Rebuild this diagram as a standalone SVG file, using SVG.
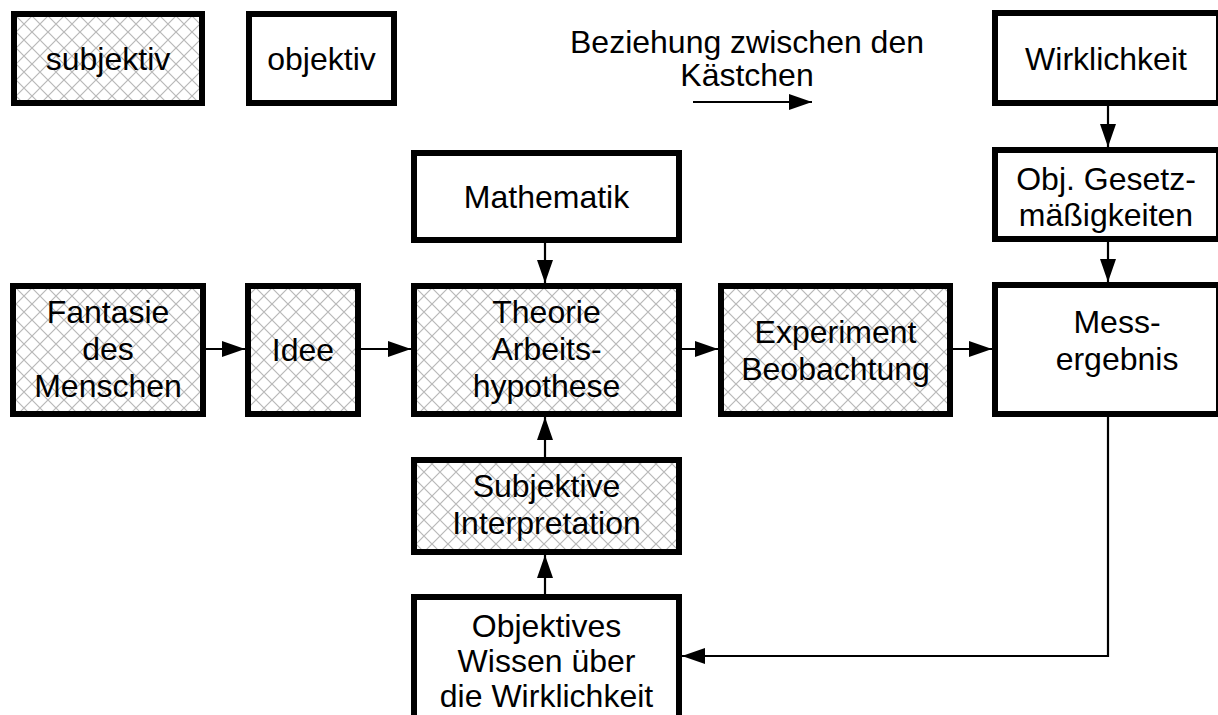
<svg xmlns="http://www.w3.org/2000/svg" width="1218" height="715" viewBox="0 0 1218 715">
  <defs>
    <!-- light diagonal cross-hatch used for the subjective boxes -->
    <pattern id="hatch" patternUnits="userSpaceOnUse" width="16" height="16">
      <rect width="16" height="16" fill="#ffffff"/>
      <path d="M0,0 L16,16 M16,0 L0,16" stroke="#b8b8b8" stroke-width="1.2" fill="none"/>
    </pattern>
    <marker id="arrow" markerUnits="userSpaceOnUse" markerWidth="24" markerHeight="18" refX="23" refY="9" orient="auto">
      <path d="M0,1 L23,9 L0,17 Z" fill="#000"/>
    </marker>
    <style>
      .box { stroke: #000; stroke-width: 6; }
      .subj { fill: url(#hatch); }
      .obj { fill: #ffffff; }
      .lbl { font-family: "Liberation Sans", Arial, sans-serif; font-size: 32px; fill: #000; text-anchor: middle; }
      .con { stroke: #000; stroke-width: 2.2; fill: none; }
      .con-arrow { marker-end: url(#arrow); }
    </style>
  </defs>
  <rect width="1218" height="715" fill="#ffffff"/>

  <!-- legend -->
  <g id="legend-subjektiv">
    <rect class="box subj" x="14" y="14" width="188" height="89"/>
    <text class="lbl" x="108" y="70">subjektiv</text>
  </g>
  <g id="legend-objektiv">
    <rect class="box obj" x="249" y="14" width="145" height="89"/>
    <text class="lbl" x="321.5" y="70">objektiv</text>
  </g>
  <g id="legend-relation">
    <text class="lbl" x="747" y="53">Beziehung zwischen den</text>
    <text class="lbl" x="747" y="86">Kästchen</text>
  </g>

  <!-- nodes -->
  <g id="wirklichkeit">
    <rect class="box obj" x="995" y="13" width="224" height="90"/>
    <text class="lbl" x="1106" y="70">Wirklichkeit</text>
  </g>
  <g id="gesetzmaessigkeiten">
    <rect class="box obj" x="995" y="150" width="224" height="89"/>
    <text class="lbl" x="1106" y="190">Obj. Gesetz-</text>
    <text class="lbl" x="1106" y="226">mäßigkeiten</text>
  </g>
  <g id="mathematik">
    <rect class="box obj" x="414" y="153" width="265" height="87"/>
    <text class="lbl" x="546.5" y="208">Mathematik</text>
  </g>
  <g id="fantasie">
    <rect class="box subj" x="13" y="286" width="190" height="128"/>
    <text class="lbl" x="108" y="323">Fantasie</text>
    <text class="lbl" x="108" y="360">des</text>
    <text class="lbl" x="108" y="397">Menschen</text>
  </g>
  <g id="idee">
    <rect class="box subj" x="248" y="286" width="110" height="128"/>
    <text class="lbl" x="303" y="361">Idee</text>
  </g>
  <g id="theorie">
    <rect class="box subj" x="414" y="286" width="265" height="128"/>
    <text class="lbl" x="546.5" y="323">Theorie</text>
    <text class="lbl" x="546.5" y="360">Arbeits-</text>
    <text class="lbl" x="546.5" y="397">hypothese</text>
  </g>
  <g id="experiment">
    <rect class="box subj" x="721" y="286" width="229" height="128"/>
    <text class="lbl" x="835.5" y="343">Experiment</text>
    <text class="lbl" x="835.5" y="380">Beobachtung</text>
  </g>
  <g id="messergebnis">
    <rect class="box obj" x="995" y="285" width="224" height="129"/>
    <text class="lbl" x="1117" y="333">Mess-</text>
    <text class="lbl" x="1117" y="370">ergebnis</text>
  </g>
  <g id="interpretation">
    <rect class="box subj" x="414" y="460" width="265" height="92"/>
    <text class="lbl" x="546.5" y="497">Subjektive</text>
    <text class="lbl" x="546.5" y="534">Interpretation</text>
  </g>
  <g id="wissen">
    <rect class="box obj" x="414" y="597" width="265" height="125"/>
    <text class="lbl" x="546.5" y="637">Objektives</text>
    <text class="lbl" x="546.5" y="672">Wissen über</text>
    <text class="lbl" x="546.5" y="707">die Wirklichkeit</text>
  </g>

  <!-- connectors -->
  <g id="connectors">
    <line class="con con-arrow" x1="693" y1="102" x2="812" y2="102"/>
    <line class="con con-arrow" x1="206" y1="349" x2="245" y2="349"/>
    <line class="con con-arrow" x1="361" y1="349" x2="411" y2="349"/>
    <line class="con con-arrow" x1="682" y1="349" x2="718" y2="349"/>
    <line class="con con-arrow" x1="953" y1="349" x2="992" y2="349"/>
    <line class="con con-arrow" x1="545" y1="243" x2="545" y2="283"/>
    <line class="con con-arrow" x1="1108" y1="106" x2="1108" y2="147"/>
    <line class="con con-arrow" x1="1108" y1="242" x2="1108" y2="282"/>
    <line class="con con-arrow" x1="545" y1="457" x2="545" y2="417"/>
    <line class="con con-arrow" x1="545" y1="594" x2="545" y2="555"/>
    <polyline class="con con-arrow" points="1108,417 1108,656 682,656"/>
  </g>
</svg>
